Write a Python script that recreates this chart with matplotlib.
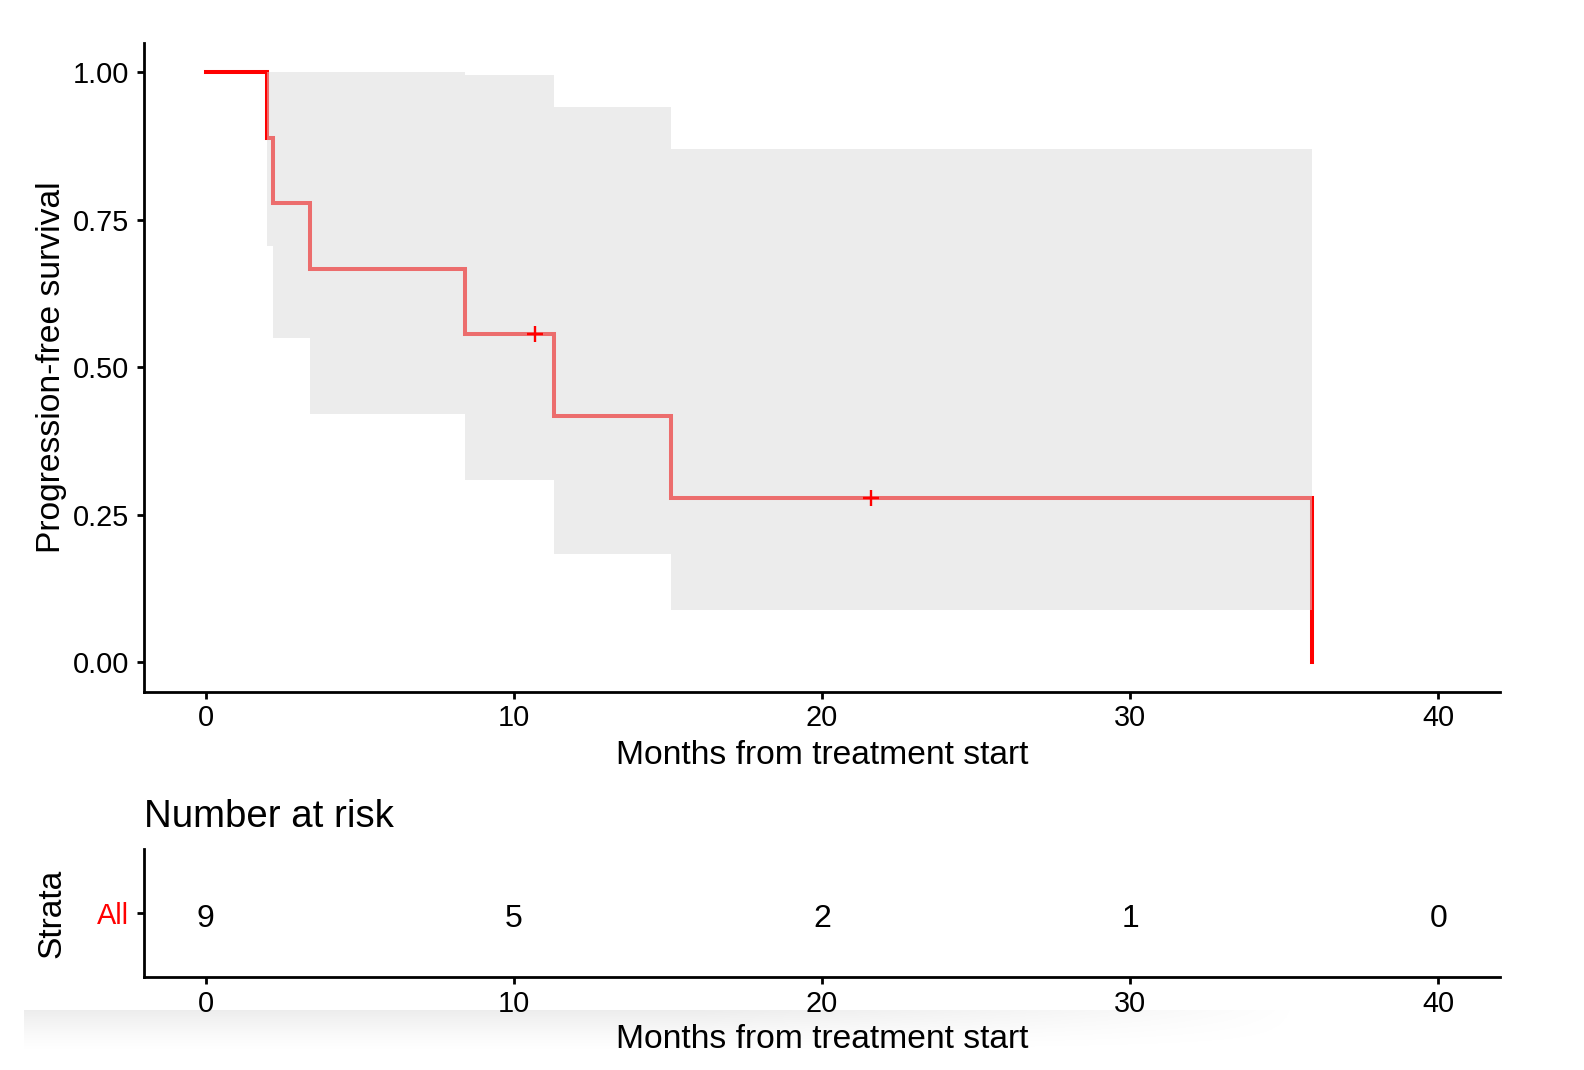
import numpy as np
import matplotlib
matplotlib.use('Agg')
import matplotlib.pyplot as plt

# ---- data ----
time = [0, 2.0, 2.2, 3.4, 8.4, 11.3, 15.1, 35.9]
surv = [1.0, 0.889, 0.778, 0.667, 0.556, 0.417, 0.278, 0.0]
ci_upper = [1.0, 1.0, 1.0, 1.0, 0.995, 0.940, 0.869]   # per interval
ci_lower = [1.0, 0.706, 0.550, 0.421, 0.309, 0.184, 0.089]
censor_time = [10.7, 21.6]
censor_surv = [0.556, 0.278]
risk_times = [0, 10, 20, 30, 40]
risk_counts = [9, 5, 2, 1, 0]
strata = ["All"]
x_ticks = [0, 10, 20, 30, 40]
y_ticks = [0.00, 0.25, 0.50, 0.75, 1.00]
y_ticklabels = ["0.00", "0.25", "0.50", "0.75", "1.00"]

plt.rcParams['font.family'] = ['Liberation Sans', 'DejaVu Sans']

W, H = 1584, 1070
fig = plt.figure(figsize=(W / 100, H / 100), dpi=100)

def fr(x0, y0, x1, y1):
    return [x0 / W, 1 - y1 / H, (x1 - x0) / W, (y1 - y0) / H]

# subtle screenshot gradient at the bottom
gax = fig.add_axes(fr(24, 1010, W, 1055), zorder=-5)
gx = np.linspace(0, 1, 400)
gy = np.linspace(0, 1, 50)
px = 24 + gx * (W - 24)
hx = np.clip((1300 - px) / 600.0, 0, 1) ** 0.7
vy = gy ** 1.4
alpha = np.outer(vy, hx) * 0.075
img = np.zeros((50, 400, 4))
img[..., 3] = alpha
gax.imshow(img, aspect='auto', extent=[0, 1, 0, 1], origin='lower')
gax.set_axis_off()

spine_w = 2.0
tick_fs = 20.8
label_fs = 24.2
risk_fs = 23

# ---- main KM plot ----
ax = fig.add_axes(fr(144, 42.5, 1500, 692))
ax.step(time, surv, where='post', color='#FF0000', lw=2.9, zorder=2,
        solid_joinstyle='miter')
band_x = time
band_lo = ci_lower + [ci_lower[-1]]
band_hi = ci_upper + [ci_upper[-1]]
ax.fill_between(band_x, band_lo, band_hi, step='post', color='#DBDBDB',
                alpha=0.5, lw=0, zorder=3)
ax.plot(censor_time, censor_surv, ls='none', marker='+', ms=11.5, mew=1.7,
        color='#FF0000', zorder=4)

ax.set_xlim(-2, 42)
ax.set_ylim(-0.05, 1.05)
ax.set_xticks(x_ticks)
ax.set_yticks(y_ticks)
ax.set_yticklabels(y_ticklabels)
for s in ['top', 'right']:
    ax.spines[s].set_visible(False)
for s in ['left', 'bottom']:
    ax.spines[s].set_linewidth(spine_w)
ax.tick_params(axis='both', length=5, width=spine_w, labelsize=tick_fs,
               colors='black')
ax.tick_params(axis='x', pad=3.5)
ax.tick_params(axis='y', pad=5.5)
ax.set_xlabel("Months from treatment start", fontsize=label_fs)
ax.set_ylabel("Progression-free survival", fontsize=label_fs)
ax.xaxis.set_label_coords(0.5, (692 - 755) / 649.5)
ax.xaxis.label.set_va('center')
ax.yaxis.set_label_coords((52 - 144) / 1356, 0.5)
ax.yaxis.label.set_va('center')

# ---- risk table ----
rax = fig.add_axes(fr(144, 849, 1500, 977))
rax.set_xlim(-2, 42)
rax.set_ylim(-0.5, 0.5)
for t, n in zip(risk_times, risk_counts):
    rax.text(t, -0.11, str(n), ha='center', va='baseline', fontsize=risk_fs)
rax.set_xticks(x_ticks)
rax.set_yticks([0])
rax.set_yticklabels(strata)
for s in ['top', 'right']:
    rax.spines[s].set_visible(False)
for s in ['left', 'bottom']:
    rax.spines[s].set_linewidth(spine_w)
rax.tick_params(axis='both', length=5, width=spine_w, labelsize=tick_fs,
                colors='black')
rax.get_yticklabels()[0].set_color('#FF0000')
rax.tick_params(axis='x', pad=4.5)
rax.tick_params(axis='y', pad=5.5)
rax.set_xlabel("Months from treatment start", fontsize=label_fs)
rax.set_ylabel("Strata", fontsize=label_fs)
rax.xaxis.set_label_coords(0.5, (977 - 1040) / 128)
rax.xaxis.label.set_va('center')
rax.yaxis.set_label_coords((52 - 144) / 1356, 0.5)
rax.yaxis.label.set_va('center')
rax.text(0, (977 - 826.7) / 128, "Number at risk", transform=rax.transAxes,
         ha='left', va='baseline', fontsize=27.6)

fig.savefig('out.png', dpi=100)
